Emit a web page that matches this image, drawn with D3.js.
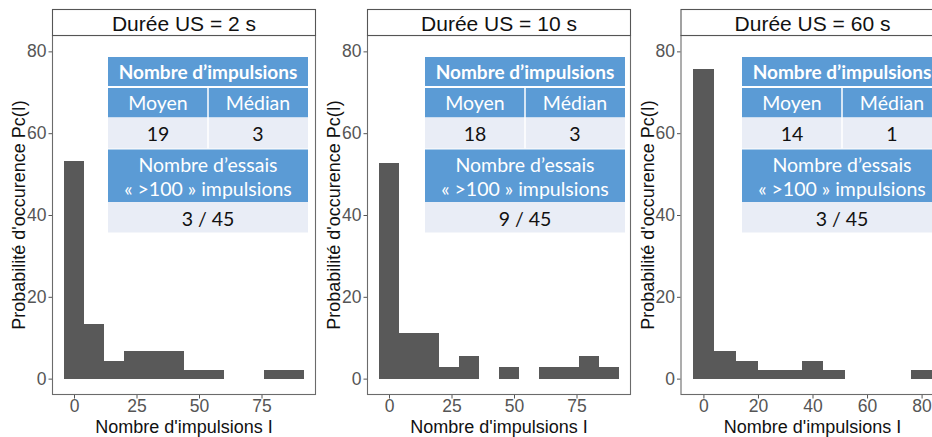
<!DOCTYPE html>
<html><head><meta charset="utf-8">
<script src="https://cdn.jsdelivr.net/npm/d3@7"></script>
<style>body{margin:0;background:#fff}svg{display:block}</style>
</head><body><svg id="c" width="932" height="437"></svg>
<script>
// ---------- data ----------
const stripTitles = ["Durée US = 2 s", "Durée US = 10 s", "Durée US = 60 s"];
const binWidth = 8;
const binCenters2s = [0, 8, 16, 24, 32, 40, 48, 56, 64, 72, 80, 88];
const pc2s  = [53.3, 13.3, 4.4, 6.7, 6.7, 6.7, 2.2, 2.2, 0, 0, 2.2, 2.2];
const binCenters10s = [0, 8, 16, 24, 32, 40, 48, 56, 64, 72, 80, 88];
const pc10s = [52.8, 11.1, 11.1, 2.8, 5.6, 0, 2.8, 0, 2.8, 2.8, 5.6, 2.8];
const binCenters60s = [0, 8, 16, 24, 32, 40, 48, 56, 64, 72, 80];
const pc60s = [75.6, 6.7, 4.4, 2.2, 2.2, 4.4, 2.2, 0, 0, 0, 2.2];
const xTicks2s = [0, 25, 50, 75];
const xTicks10s = [0, 25, 50, 75];
const xTicks60s = [0, 20, 40, 60, 80];
const yTicks = [0, 20, 40, 60, 80];
const yLimits = [0, 80];
const meanImpulses = ["19", "18", "14"];
const medianImpulses = ["3", "3", "1"];
const trialsOver100 = ["3 / 45", "9 / 45", "3 / 45"];
const tableHeader = "Nombre d\u2019impulsions";
const colHeaders = ["Moyen", "Médian"];
const trialsHeader = ["Nombre d\u2019essais", "\u00AB >100 \u00BB impulsions"];
const xTitle = "Nombre d'impulsions I";
const yTitle = "Probabilité d'occurence Pc(I)";

const panels = [
  {centers: binCenters2s, values: pc2s, ticks: xTicks2s},
  {centers: binCenters10s, values: pc10s, ticks: xTicks10s},
  {centers: binCenters60s, values: pc60s, ticks: xTicks60s}
];

// ---------- layout ----------
const panelLeft = [52, 367, 680.5];
const panelW = 264;
const stripTop = 9, panelTop = 35, panelBottom = 395;
const tableOffset = [56, 58, 61.5];
const tableW = 200;
const blue = "#5B9BD5", light = "#E9EDF6", barFill = "#595959";
const axisFont = "'Liberation Sans', Arial, sans-serif";
const tableFont = "Lato, 'Open Sans', sans-serif";

const svg = d3.select("#c");

panels.forEach((p, i) => {
  const L = panelLeft[i];
  const lo = d3.min(p.centers) - binWidth / 2, hi = d3.max(p.centers) + binWidth / 2;
  const pad = (hi - lo) * 0.05;
  const x = d3.scaleLinear().domain([lo - pad, hi + pad]).range([L, L + panelW]);
  const ypad = (yLimits[1] - yLimits[0]) * 0.05;
  const y = d3.scaleLinear().domain([yLimits[0] - ypad, yLimits[1] + ypad]).range([panelBottom, panelTop]);

  const g = svg.append("g");

  // bars
  const bins = p.centers.map((c, k) => ({x0: c - binWidth / 2, x1: c + binWidth / 2, v: p.values[k]})).filter(d => d.v > 0);
  g.selectAll("rect.bar").data(bins).enter().append("rect")
    .attr("class", "bar")
    .attr("x", d => x(d.x0)).attr("width", d => x(d.x1) - x(d.x0))
    .attr("y", d => y(d.v)).attr("height", d => y(0) - y(d.v))
    .attr("fill", barFill).attr("shape-rendering", "crispEdges");

  // panel border
  g.append("rect").attr("x", L + 0.5).attr("y", panelTop + 0.5)
    .attr("width", panelW - 1).attr("height", panelBottom - panelTop - 1)
    .attr("fill", "none").attr("stroke", "#6b6b6b").attr("stroke-width", 1.1);

  // strip
  g.append("rect").attr("x", L + 0.5).attr("y", stripTop + 0.5)
    .attr("width", panelW - 1).attr("height", panelTop - stripTop)
    .attr("fill", "#fff").attr("stroke", "#555").attr("stroke-width", 1.1);
  g.append("text").attr("x", L + panelW / 2).attr("y", (stripTop + panelTop) / 2 + 1)
    .attr("text-anchor", "middle").attr("dominant-baseline", "central")
    .attr("font-family", axisFont).attr("font-size", 21).attr("fill", "#111")
    .text(stripTitles[i]);

  // axes
  const ya = g.append("g").attr("transform", `translate(${L},0)`)
    .call(d3.axisLeft(y).tickValues(yTicks).tickSize(3.5).tickPadding(2));
  const xa = g.append("g").attr("transform", `translate(0,${panelBottom})`)
    .call(d3.axisBottom(x).tickValues(p.ticks).tickSize(3.5).tickPadding(1));
  [ya, xa].forEach(a => {
    a.select(".domain").remove();
    a.selectAll(".tick line").attr("stroke", "#555");
    a.selectAll(".tick text").attr("fill", "#555").attr("font-family", axisFont).attr("font-size", 17.5);
  });

  // axis titles
  g.append("text").attr("x", L + panelW / 2).attr("y", 433)
    .attr("text-anchor", "middle").attr("font-family", axisFont).attr("font-size", 18).attr("fill", "#111")
    .text(xTitle);
  g.append("text").attr("transform", `translate(${L - 27},${(panelTop + panelBottom) / 2}) rotate(-90)`)
    .attr("text-anchor", "middle").attr("font-family", axisFont).attr("font-size", 18).attr("fill", "#111")
    .text(yTitle);

  // inset table
  const tx = L + tableOffset[i];
  const mid = tx + tableW / 2;
  const t = g.append("g");
  const rows = [
    {y0: 57, y1: 86, fill: blue},
    {y0: 88, y1: 117.5, fill: blue},
    {y0: 117.5, y1: 148.5, fill: light},
    {y0: 149.5, y1: 202, fill: blue},
    {y0: 202, y1: 232.5, fill: light}
  ];
  t.selectAll("rect").data(rows).enter().append("rect")
    .attr("x", tx).attr("width", tableW).attr("y", d => d.y0).attr("height", d => d.y1 - d.y0)
    .attr("fill", d => d.fill);
  t.append("line").attr("x1", mid).attr("x2", mid).attr("y1", 88).attr("y2", 148.5)
    .attr("stroke", "#fff").attr("stroke-width", 1.5);
  const txt = (xx, yy, s, col, bold, fs) => t.append("text").attr("x", xx).attr("y", yy)
    .attr("text-anchor", "middle").attr("dominant-baseline", "central")
    .attr("font-family", tableFont).attr("font-size", fs || 19.5).attr("font-weight", bold ? 700 : 400)
    .attr("fill", col).text(s);
  txt(mid, 71.5, tableHeader, "#fff", true, 19);
  txt(tx + tableW / 4, 102.5, colHeaders[0], "#fff", false);
  txt(tx + 3 * tableW / 4, 102.5, colHeaders[1], "#fff", false);
  txt(tx + tableW / 4, 133, meanImpulses[i], "#111", false);
  txt(tx + 3 * tableW / 4, 133, medianImpulses[i], "#111", false);
  txt(mid, 164.5, trialsHeader[0], "#fff", false);
  txt(mid, 188, trialsHeader[1], "#fff", false);
  txt(mid, 218, trialsOver100[i], "#111", false);
});
</script></body></html>
